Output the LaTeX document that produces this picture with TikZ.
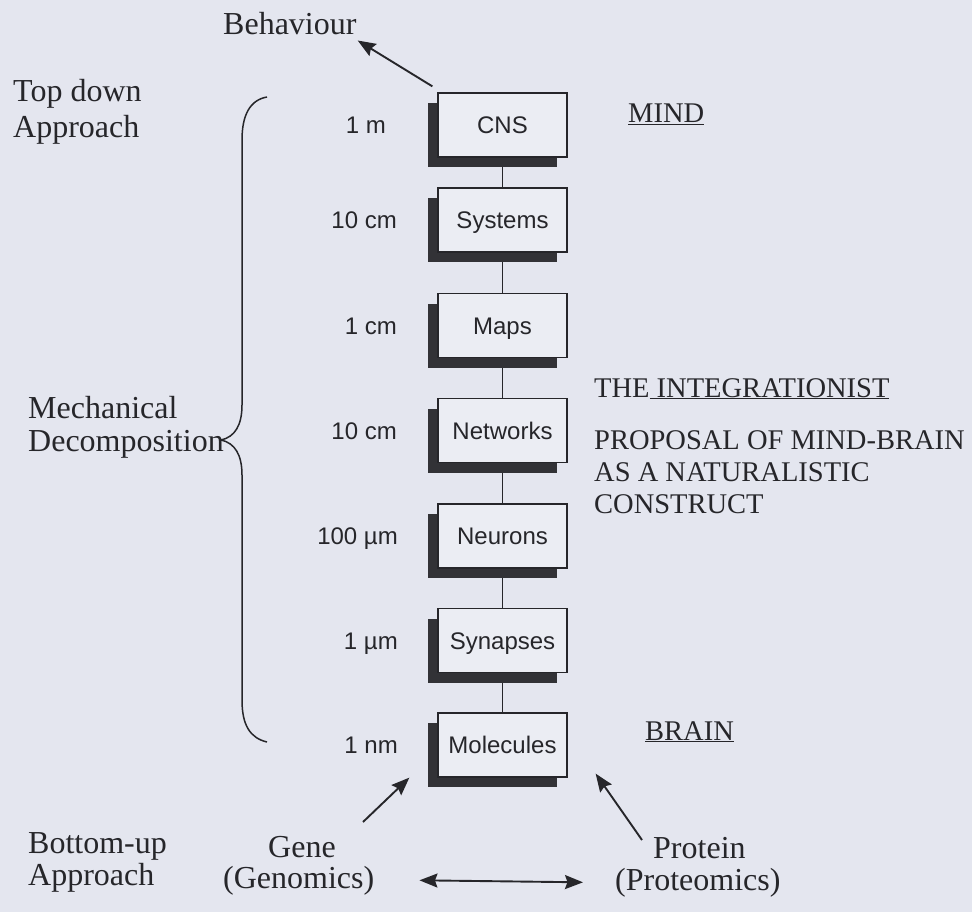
\documentclass[tikz,border=0pt]{standalone}
\usepackage{fontspec}
\setmainfont{Liberation Serif}
\setsansfont{Liberation Sans}
\usetikzlibrary{arrows.meta,shadows}
\pgfdeclarelayer{paper}
\pgfdeclarelayer{links}
\pgfsetlayers{paper,links,main}

\definecolor{paper}{RGB}{228,230,239}
\definecolor{boxfill}{RGB}{235,237,243}
\definecolor{ink}{RGB}{38,38,42}
\definecolor{shade}{RGB}{50,50,54}

\tikzset{
  Head/.tip={Stealth[length=18pt,width=14pt,inset=2.5pt]},
  level/.style={draw=ink, line width=1.3pt, fill=boxfill,
    minimum width=129pt, minimum height=64pt, inner sep=0pt,
    font=\fontsize{24}{28}\sffamily, text=ink,
    text height=17.2pt, text depth=0pt,
    drop shadow={shadow xshift=-10.5pt, shadow yshift=-10pt, opacity=1, fill=shade}},
  scalelbl/.style={anchor=base east, inner sep=0pt,
    font=\fontsize{24}{28}\sffamily, text=ink},
  lbl/.style={anchor=base west, inner sep=0pt,
    font=\fontsize{32}{36}\selectfont, text=ink},
  caps/.style={anchor=base west, inner sep=0pt,
    font=\fontsize{28.5}{32}\selectfont, text=ink},
  link/.style={draw=ink, line width=1.3pt},
  pointer/.style={draw=ink, line width=1.9pt},
}

\begin{document}
\begin{tikzpicture}[x=1pt,y=-1pt]
\begin{pgfonlayer}{paper}
  \fill[paper] (0,0) rectangle (972,912);
\end{pgfonlayer}
\useasboundingbox (0,0) rectangle (972,912);

% levels of organisation
\node[level] (cns)  at (502.5,125)   {CNS};
\node[level] (sys)  at (502.5,220)   {Systems};
\node[level] (maps) at (502.5,325.5) {Maps};
\node[level] (net)  at (502.5,430.5) {Networks};
\node[level] (neu)  at (502.5,536)   {Neurons};
\node[level] (syn)  at (502.5,640.5) {Synapses};
\node[level] (mol)  at (502.5,745)   {Molecules};

\begin{pgfonlayer}{links}
  \draw[link] (cns) -- (sys);
  \draw[link] (sys) -- (maps);
  \draw[link] (maps) -- (net);
  \draw[link] (net) -- (neu);
  \draw[link] (neu) -- (syn);
  \draw[link] (syn) -- (mol);
\end{pgfonlayer}

% spatial scales
\node[scalelbl] (s1) at (386,133.5) {1 m};
\node[scalelbl] (s2) at (397,228.5) {10 cm};
\node[scalelbl] (s3) at (397,334)   {1 cm};
\node[scalelbl] (s4) at (397,439)   {10 cm};
\node[scalelbl] (s5) at (398,544.5) {100 µm};
\node[scalelbl] (s6) at (398,649)   {1 µm};
\node[scalelbl] (s7) at (398,753.5) {1 nm};

% top
\node[lbl] (beh) at (223,35) {Behaviour};
\draw[pointer,-Head] ([shift={(-5,-6)}]cns.north west) -- ([shift={(1,5)}]beh.south east);

\node[lbl] (td1) at (13,102) {Top down};
\node[lbl] (td2) at (13,138) {Approach};

% brace and its label
\draw[ink, line width=1.5pt]
  (267,97) .. controls (250,100) and (242,115) .. (242,140)
  -- (242,405) .. controls (242,425) and (235,437) .. (221,440)
  .. controls (235,443) and (242,455) .. (242,475)
  -- (242,700) .. controls (242,725) and (250,738) .. (267,742);
\node[lbl] (md1) at (28,418) {Mechanical};
\node[lbl] (md2) at (28,451) {Decomposition};

% right side
\node[caps] (mind)  at (628,123) {\underline{MIND}};
\node[caps] (integ) at (594,397) {THE\underline{ INTEGRATIONIST}};
\node[caps] (prop1) at (594,449) {PROPOSAL OF MIND-BRAIN};
\node[caps] (prop2) at (594,481) {AS A NATURALISTIC};
\node[caps] (prop3) at (594,513) {CONSTRUCT};
\node[caps] (brain) at (645,740) {\underline{BRAIN}};

% bottom
\node[lbl] (bu1) at (28,853) {Bottom-up};
\node[lbl] (bu2) at (28,885) {Approach};
\node[lbl] (gene) at (268,857) {Gene};
\node[lbl] (genomics) at (223,888) {(Genomics)};
\node[lbl] (prot) at (653,858) {Protein};
\node[lbl] (proteomics) at (615,890) {(Proteomics)};

\coordinate (gtail) at (363,822);
\coordinate (ptail) at (642,840);
\draw[pointer,-Head] (gtail) -- ([xshift=-28pt]mol.south west);
\draw[pointer,-Head] (ptail) -- ([shift={(28,-4)}]mol.south east);
\draw[pointer,Head-Head] ([xshift=45pt]genomics.east) -- ([xshift=-32pt]proteomics.west);
\end{tikzpicture}
\end{document}
